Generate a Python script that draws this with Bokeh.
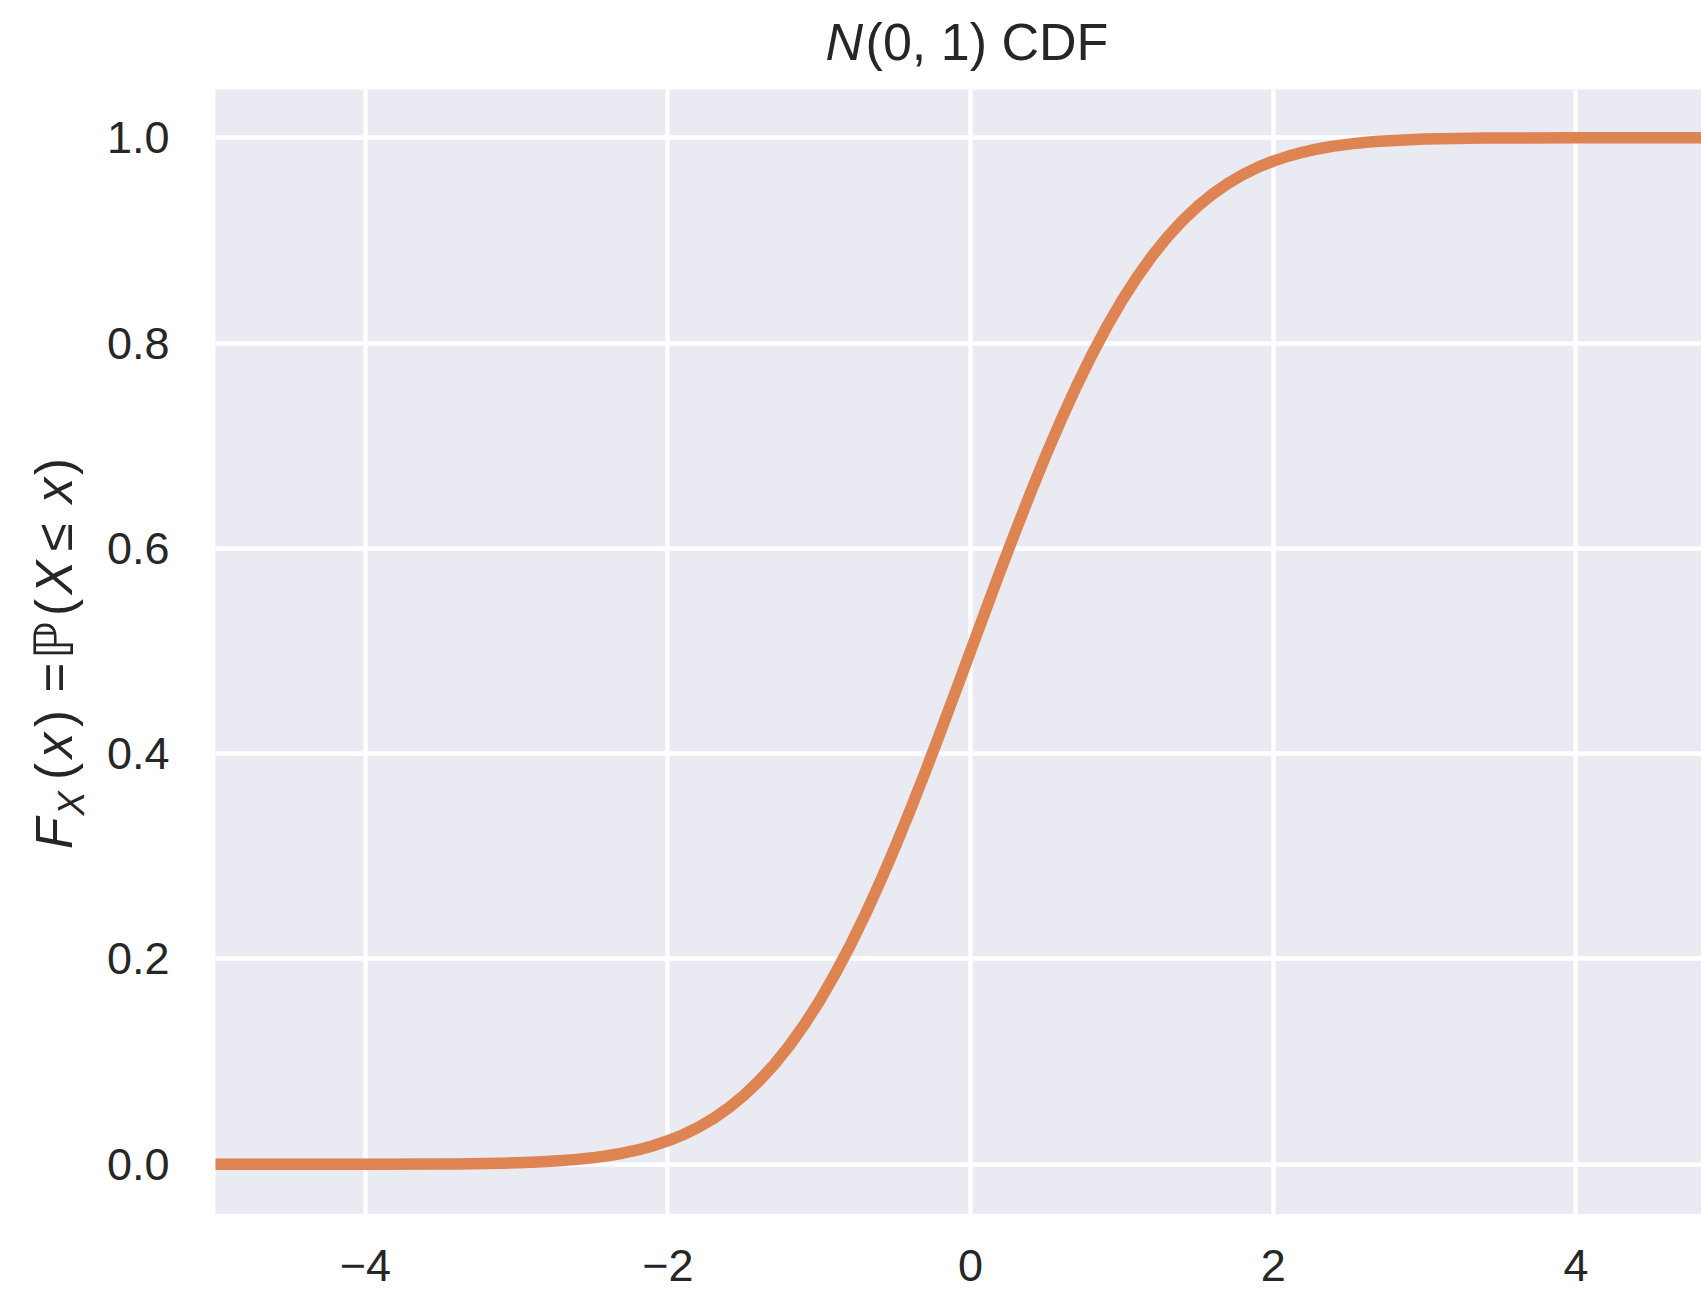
from bokeh.core.properties import value
from bokeh.embed import file_html
from bokeh.layouts import column, row
from bokeh.models import FixedTicker, Range1d
from bokeh.plotting import figure
from bokeh.resources import INLINE

# Standard normal CDF, read along x
x_vals = [-5.0, -4.5, -4.0,
          -3.5, -3.4, -3.3, -3.2, -3.1, -3.0, -2.9, -2.8, -2.7, -2.6,
          -2.5, -2.4, -2.3, -2.2, -2.1, -2.0, -1.9, -1.8, -1.7, -1.6,
          -1.5, -1.4, -1.3, -1.2, -1.1, -1.0, -0.9, -0.8, -0.7, -0.6,
          -0.5, -0.4, -0.3, -0.2, -0.1, 0.0, 0.1, 0.2, 0.3, 0.4,
          0.5, 0.6, 0.7, 0.8, 0.9, 1.0, 1.1, 1.2, 1.3, 1.4,
          1.5, 1.6, 1.7, 1.8, 1.9, 2.0, 2.1, 2.2, 2.3, 2.4,
          2.5, 2.6, 2.7, 2.8, 2.9, 3.0, 3.1, 3.2, 3.3, 3.4, 3.5,
          4.0, 4.5, 5.0]
cdf_vals = [0.0000, 0.0000, 0.0000,
            0.0002, 0.0003, 0.0005, 0.0007, 0.0010, 0.0013, 0.0019, 0.0026, 0.0035, 0.0047,
            0.0062, 0.0082, 0.0107, 0.0139, 0.0179, 0.0228, 0.0287, 0.0359, 0.0446, 0.0548,
            0.0668, 0.0808, 0.0968, 0.1151, 0.1357, 0.1587, 0.1841, 0.2119, 0.2420, 0.2743,
            0.3085, 0.3446, 0.3821, 0.4207, 0.4602, 0.5000, 0.5398, 0.5793, 0.6179, 0.6554,
            0.6915, 0.7257, 0.7580, 0.7881, 0.8159, 0.8413, 0.8643, 0.8849, 0.9032, 0.9192,
            0.9332, 0.9452, 0.9554, 0.9641, 0.9713, 0.9772, 0.9821, 0.9861, 0.9893, 0.9918,
            0.9938, 0.9953, 0.9965, 0.9974, 0.9981, 0.9987, 0.9990, 0.9993, 0.9995, 0.9997, 0.9998,
            1.0000, 1.0000, 1.0000]

x_ticks = [-4, -2, 0, 2, 4]
x_tick_labels = ["\u22124", "\u22122", "0", "2", "4"]
y_ticks = [0.0, 0.2, 0.4, 0.6, 0.8, 1.0]
y_tick_labels = ["0.0", "0.2", "0.4", "0.6", "0.8", "1.0"]

TEXT = "#262626"
SANS = "Liberation Sans"

# page geometry (pixels)
W, H = 1701, 1292
FRAME_L, FRAME_T, FRAME_W, FRAME_H = 215, 89, 1486, 1125
YLAB_W = 100
BOTTOM_H = H - FRAME_T - FRAME_H

x_range = Range1d(-4.99, 4.83)


def bare(width, height, **kw):
    f = figure(width=width, height=height, output_backend="svg",
               toolbar_location=None, min_border=0, **kw)
    f.axis.visible = False
    f.grid.visible = False
    f.outline_line_color = None
    f.background_fill_color = "white"
    f.border_fill_color = "white"
    return f


# ---- main axes ----
p = figure(
    width=W - YLAB_W, height=FRAME_H,
    x_range=x_range, y_range=(-0.049, 1.047),
    output_backend="svg", toolbar_location=None,
    min_border_left=FRAME_L - YLAB_W, min_border_top=0,
    min_border_right=0, min_border_bottom=0,
)
p.background_fill_color = "#EAEAF2"
p.border_fill_color = "white"
p.outline_line_color = None

p.xaxis.visible = False
p.xgrid.ticker = FixedTicker(ticks=x_ticks)
p.yaxis.ticker = FixedTicker(ticks=y_ticks)
p.ygrid.ticker = FixedTicker(ticks=y_ticks)
p.yaxis.major_label_overrides = dict(zip(y_ticks, y_tick_labels))
p.yaxis.axis_line_color = None
p.yaxis.major_tick_line_color = None
p.yaxis.minor_tick_line_color = None
p.yaxis.major_tick_out = 0
p.yaxis.major_tick_in = 0
p.yaxis.major_label_standoff = 46
p.yaxis.major_label_text_font = SANS
p.yaxis.major_label_text_font_size = "45px"
p.yaxis.major_label_text_color = TEXT

p.grid.grid_line_color = "white"
p.grid.grid_line_width = 4.5
p.grid.minor_grid_line_color = None

p.line(x_vals, cdf_vals, line_color="#DD8452", line_width=11.5,
       line_join="round", line_cap="round")

# ---- title strip: N(0, 1) CDF, centred on x = 0 ----
t = bare(W, FRAME_T, x_range=x_range, y_range=Range1d(FRAME_T, 0),
         min_border_left=FRAME_L)
TITLE_Y = 41
t.text(x=[0], y=[TITLE_Y], text=["N"], x_offset=-145,
       text_font=value(SANS), text_font_style="italic",
       text_font_size="52px", text_color=TEXT,
       text_align="left", text_baseline="alphabetic")
t.text(x=[0], y=[TITLE_Y], text=["(0, 1) CDF"], x_offset=-105,
       text_font=value(SANS), text_font_size="52px", text_color=TEXT,
       text_align="left", text_baseline="alphabetic")

# ---- y label strip: F_X(x) = P(X <= x), reading upward ----
yl = bare(YLAB_W, FRAME_H, x_range=Range1d(0, YLAB_W),
          y_range=Range1d(FRAME_H, 0))
ylabel_parts = [
    # glyph, centre (page y), italic, size, baseline (page x), font
    ("F", 833, True, 51, 54, SANS),
    ("X", 803, True, 36, 71, SANS),
    ("(", 771, False, 51, 54, SANS),
    ("x", 745, True, 51, 54, SANS),
    (")", 718, False, 51, 54, SANS),
    ("=", 677, False, 51, 54, SANS),
    ("\u2119", 640, False, 54, 54, "DejaVu Sans"),
    ("(", 607, False, 51, 54, SANS),
    ("X", 577, True, 51, 54, SANS),
    ("\u2264", 537, False, 51, 54, SANS),
    ("x", 490, True, 51, 54, SANS),
    (")", 466, False, 51, 54, SANS),
]
for glyph, cy, ital, size, bx, font in ylabel_parts:
    yl.text(x=[bx], y=[cy - FRAME_T], text=[glyph], angle=1.5708,
            text_font=value(font),
            text_font_style="italic" if ital else "normal",
            text_font_size=f"{size}px", text_color=TEXT,
            text_align="center", text_baseline="alphabetic")

# ---- x tick label strip, sharing the main x scale ----
xb = bare(W, BOTTOM_H, x_range=x_range, y_range=Range1d(BOTTOM_H, 0),
          min_border_left=FRAME_L)
xb.text(x=x_ticks, y=[1265 - FRAME_T - FRAME_H] * len(x_ticks),
        text=x_tick_labels, text_font=value(SANS), text_font_size="45px",
        text_color=TEXT, text_align="center", text_baseline="alphabetic")

layout = column(t, row(yl, p), xb)

with open("out.html", "w") as f:
    f.write(file_html(layout, INLINE))
